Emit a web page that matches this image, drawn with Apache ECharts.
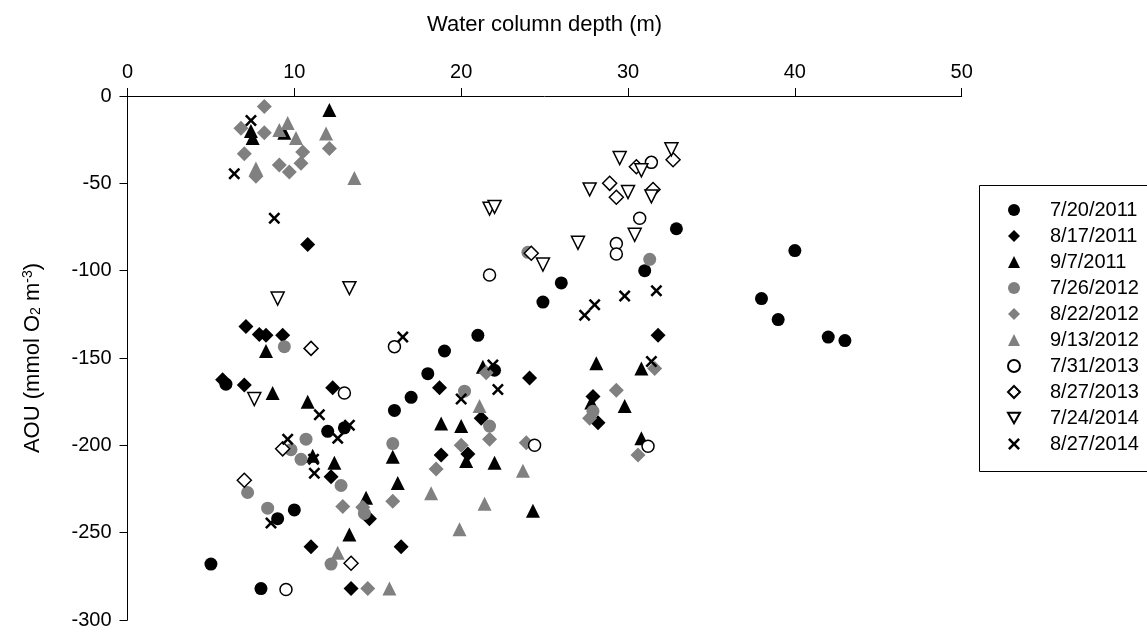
<!DOCTYPE html>
<html>
<head>
<meta charset="utf-8">
<script src="https://cdn.jsdelivr.net/npm/echarts@6/dist/echarts.min.js"></script>
<style>
html,body{margin:0;padding:0;background:#fff;}
#chart{width:1147px;height:635px;}
</style>
</head>
<body>
<div id="chart"></div>
<script>
// ---- Data (x = water column depth m, y = AOU mmol O2 m-3) ----
const xTicks = [0, 10, 20, 30, 40, 50];
const yTicks = [0, -50, -100, -150, -200, -250, -300];
const seriesNames = ['7/20/2011','8/17/2011','9/7/2011','7/26/2012','8/22/2012','9/13/2012','7/31/2013','8/27/2013','7/24/2014','8/27/2014'];

const d20110720 = [[5.9,-165],[17.0,-172.5],[16.0,-180],[12.0,-192],[13.0,-190],[9.0,-242],[10.0,-237],[5.0,-268],[8.0,-282],
  [21.0,-137],[19.0,-146],[18.0,-159],[22.0,-157],[24.9,-118],[26.0,-107],[31.0,-100],[32.9,-76],[40.0,-88.5],[38.0,-116],[39.0,-128],[42.0,-138],[43.0,-140]];
const d20110817 = [[10.8,-85],[7.1,-132],[7.9,-136.5],[8.3,-137],[9.3,-137],[5.7,-162.5],[7.0,-165.5],[12.3,-167],[12.2,-218],[14.5,-242],
  [11.0,-258],[16.4,-258],[13.4,-282],[18.7,-167],[24.1,-161.5],[21.2,-184.5],[18.8,-205.5],[20.4,-205],[27.9,-172],[28.2,-187],[31.8,-137]];
const d20110907 = [[7.4,-20],[7.5,-24],[9.4,-21],[12.1,-8],[8.3,-146],[8.7,-170],[10.8,-175],[11.1,-206],[12.4,-210],[13.3,-251],[14.3,-230],
  [15.9,-206.5],[16.2,-221.5],[21.3,-155],[18.8,-187.5],[20.0,-189],[20.3,-209],[22.0,-210],[24.3,-237.5],[28.1,-153],[27.8,-175.5],[29.8,-177.5],[30.8,-156],[30.8,-196]];
const d20120726 = [[9.4,-143.5],[10.7,-196.5],[9.8,-202.5],[10.4,-208],[12.8,-223],[7.2,-227],[8.4,-236],[14.2,-239],[12.2,-268],[15.9,-199],
  [20.2,-169],[21.7,-189],[24.0,-89.5],[31.3,-93.5],[27.9,-180.5]];
const d20120822 = [[8.2,-6],[6.8,-18.5],[8.2,-21],[12.1,-30],[10.5,-32],[10.4,-38.5],[9.7,-43.5],[9.1,-39.5],[7.0,-33],[7.7,-46],
  [12.9,-235],[14.1,-235.5],[15.9,-232],[14.4,-282],[21.5,-158.5],[21.7,-196.5],[20.0,-200],[18.5,-213.5],[23.9,-198.5],[31.6,-156],[29.3,-168.5],[27.7,-184.5],[30.6,-205.5]];
const d20120913 = [[9.1,-19.5],[9.6,-15.5],[10.1,-24],[11.9,-21.5],[7.7,-41.5],[13.6,-47],[12.6,-261.5],[15.7,-282],[21.1,-177.5],[23.7,-214.5],
  [18.2,-227.5],[21.4,-233.5],[19.9,-248]];
const d20130731 = [[16.0,-143.5],[13.0,-170],[9.5,-282.5],[24.4,-200],[21.7,-102.5],[31.4,-38],[30.7,-70],[29.3,-84.5],[29.3,-90.5],[31.2,-200.5]];
const d20130827 = [[11.0,-144.5],[9.3,-202],[7.0,-220],[13.4,-267.5],[24.2,-90],[30.5,-40.5],[32.7,-36.5],[28.9,-50],[29.3,-58],[31.5,-53.5]];
const d20140724 = [[9.0,-116],[13.3,-110],[7.6,-173.5],[29.5,-35.5],[32.6,-30.5],[30.8,-42.5],[27.7,-53.5],[30.0,-55],[31.4,-57.5],
  [21.7,-64.5],[22.0,-63.5],[30.4,-79.5],[27.0,-84],[24.9,-96.5]];
const d20140827 = [[7.4,-14],[6.4,-44.5],[8.8,-70],[16.5,-138],[11.5,-182.5],[13.3,-188.5],[12.6,-196],[9.6,-196.5],[11.15,-208],[11.2,-216],
  [8.6,-244.5],[20.0,-173.5],[21.9,-154],[22.2,-168],[27.4,-125.5],[28.0,-119.5],[29.8,-114.5],[31.7,-111.5],[31.4,-152]];

const seriesData = [d20110720,d20110817,d20110907,d20120726,d20120822,d20120913,d20130731,d20130827,d20140724,d20140827];

// ---- Styles ----
const BLACK = '#000000', GRAY = '#808080';
const TRI_DOWN = 'path://M0,0L10,0L5,8.66Z';
const CROSS = 'path://M0,1.5L1.5,0L5,3.5L8.5,0L10,1.5L6.5,5L10,8.5L8.5,10L5,6.5L1.5,10L0,8.5L3.5,5Z';
const styles = [
  {symbol:'circle', size:13, fill:BLACK},
  {symbol:'diamond', size:15, fill:BLACK},
  {symbol:'triangle', size:14, fill:BLACK},
  {symbol:'circle', size:13, fill:GRAY},
  {symbol:'diamond', size:15, fill:GRAY},
  {symbol:'triangle', size:14, fill:GRAY},
  {symbol:'circle', size:12, fill:'#ffffff', stroke:BLACK},
  {symbol:'diamond', size:14, fill:'#ffffff', stroke:BLACK},
  {symbol:TRI_DOWN, size:13, fill:'#ffffff', stroke:BLACK},
  {symbol:CROSS, size:12, fill:BLACK}
];

const FONT = '"Liberation Sans", Arial, sans-serif';

const series = seriesNames.map((name, i) => {
  const st = styles[i];
  return {
    name: name,
    type: 'scatter',
    data: seriesData[i],
    symbol: st.symbol,
    symbolSize: st.size,
    itemStyle: st.stroke ? {color: st.fill, borderColor: st.stroke, borderWidth: 1.5, opacity: 1}
                         : {color: st.fill, opacity: 1},
    emphasis: {disabled: true},
    silent: true
  };
});

const chart = echarts.init(document.getElementById('chart'), null, {renderer: 'canvas'});
chart.setOption({
  animation: false,
  backgroundColor: '#ffffff',
  textStyle: {fontFamily: FONT},
  grid: {left: 127.5, right: 185.3, top: 96, bottom: 15, containLabel: false},
  xAxis: {
    type: 'value', position: 'top',
    min: xTicks[0], max: xTicks[xTicks.length - 1], interval: 10,
    name: 'Water column depth (m)', nameLocation: 'middle', nameGap: 60,
    nameTextStyle: {fontSize: 22, color: '#000', fontFamily: FONT},
    axisLine: {show: true, onZero: false, lineStyle: {color: '#000', width: 1}},
    axisTick: {show: true, inside: false, length: 8, lineStyle: {color: '#000', width: 1}},
    axisLabel: {fontSize: 20, color: '#000', margin: 14, fontFamily: FONT},
    splitLine: {show: false}
  },
  yAxis: {
    type: 'value',
    min: yTicks[yTicks.length - 1], max: yTicks[0], interval: 50,
    name: 'AOU (mmol O{sub|2} m{sup|-3})', nameLocation: 'middle', nameGap: 84,
    nameTextStyle: {fontSize: 22, color: '#000', fontFamily: FONT,
      rich: {
        sub: {fontSize: 14, color: '#000', fontFamily: FONT, verticalAlign: 'bottom'},
        sup: {fontSize: 14, color: '#000', fontFamily: FONT, verticalAlign: 'top'}
      }},
    axisLine: {show: true, onZero: false, lineStyle: {color: '#000', width: 1}},
    axisTick: {show: true, inside: false, length: 8, lineStyle: {color: '#000', width: 1}},
    axisLabel: {fontSize: 20, color: '#000', margin: 16, fontFamily: FONT},
    splitLine: {show: false}
  },
  legend: {
    orient: 'vertical', left: 1007, top: 200, padding: 0,
    itemWidth: 12, itemHeight: 12, itemGap: 6,
    selectedMode: false,
    textStyle: {fontSize: 20, lineHeight: 20, color: '#000', fontFamily: FONT, padding: [0, 0, 0, 25]},
    data: seriesNames
  },
  graphic: [{
    type: 'rect', left: 977, top: 183, silent: true,
    shape: {width: 200, height: 286},
    style: {fill: 'none', stroke: '#000', lineWidth: 1}
  }],
  series: series
});
</script>
</body>
</html>
